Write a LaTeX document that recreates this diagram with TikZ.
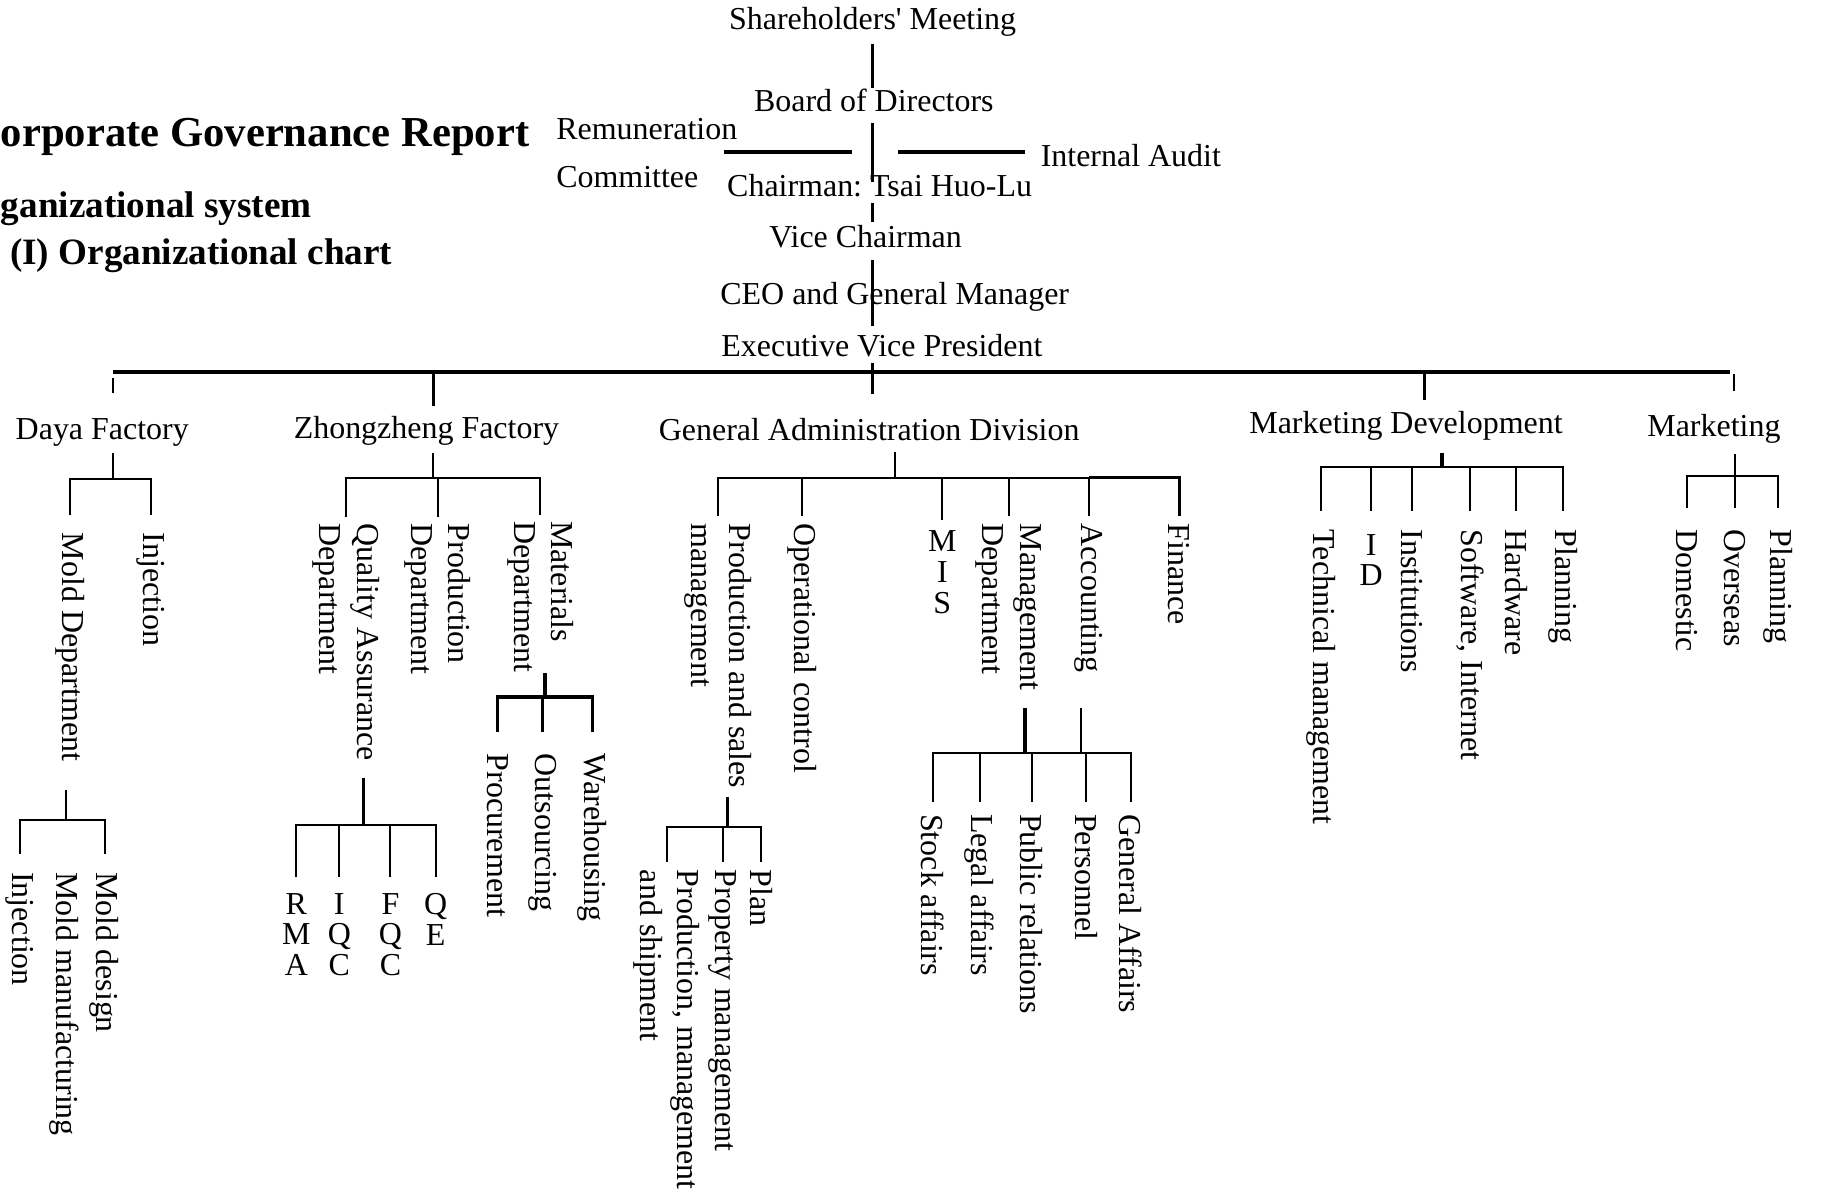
\documentclass[tikz,border=0pt]{standalone}
\usepackage{fontspec}
\setmainfont{Liberation Serif}
\frenchspacing

\begin{document}
\begin{tikzpicture}[
    x=0.01cm, y=-0.01cm,
    lbl/.style={inner sep=0pt, anchor=base, font=\fontsize{7.82}{9.1}\selectfont},
    vlabel/.style={rotate=-90, anchor=west, align=left, inner sep=0pt, font=\fontsize{7.82}{9.1}\selectfont},
    stack/.style={anchor=north, align=center, inner sep=0pt, font=\fontsize{7.82}{7.54}\selectfont},
    heading/.style={anchor=base west, inner sep=0pt, font=\bfseries\fontsize{9.1}{11}\selectfont},
    link/.style={line width=0.5pt},
    boldlink/.style={line width=0.85pt}
  ]
    \useasboundingbox (0,0) rectangle (1568,1031);

    % headings
    \node[heading, font=\bfseries\fontsize{10.44}{12}\selectfont] (title) at (0,126) {orporate Governance Report};
    \node[heading] (system) at (0,187) {ganizational system};
    \node[heading] (chart) at (8,228) {(I) Organizational chart};

    % top of the chart
    \coordinate (spine) at (751,0);
    \node[lbl] (share) at (751,25) {Shareholders\textquotesingle{} Meeting};
    \node[lbl] (board) at (752,96) {Board of Directors};
    \node[lbl] (chair) at (757,169) {Chairman: Tsai Huo-Lu};
    \node[lbl] (vice) at (745,213) {Vice Chairman};
    \node[lbl] (ceo) at (770,262) {CEO and General Manager};
    \node[lbl] (evp) at (759,307) {Executive Vice President};
    \node[lbl, anchor=north west, align=left, font=\fontsize{7.82}{11.7}\selectfont] (remu) at (478,101) {Remuneration\\Committee};
    \node[lbl, anchor=base west] (audit) at (895,143) {Internal Audit};
    \coordinate (remuTie) at (623,131);
    \coordinate (auditTie) at (882,131);

    \draw[boldlink, shorten <=1.7pt] (spine |- share.south) -- (spine |- board.north);
    \draw[boldlink, shorten <=2.6pt, shorten >=-2pt] (spine |- board.south) -- (spine |- chair.north);
    \draw[boldlink, shorten <=1.4pt, shorten >=0.6pt] (spine |- chair.south) -- (spine |- vice.north);
    \draw[boldlink, shorten <=2.8pt, shorten >=2pt] (spine |- vice.south) -- (spine |- evp.north);
    \draw[boldlink, shorten >=5.1pt] (remuTie) -- (spine |- remuTie);
    \draw[boldlink, shorten <=6.3pt] (spine |- auditTie) -- (auditTie);

    % second level
    \node[lbl] (daya) at (88,378) {Daya Factory};
    \node[lbl] (zhong) at (367,377) {Zhongzheng Factory};
    \node[lbl] (gad) at (748,379) {General Administration Division};
    \node[lbl] (md) at (1210,373) {Marketing Development};
    \node[lbl] (mk) at (1475,376) {Marketing};

    \coordinate (busL) at (97,320);
    \coordinate (busR) at (1489,320);
    \coordinate (zhongTap) at (373,320);
    \coordinate (mdTap) at (1226,320);
    \coordinate (mkTap) at (1492,320);
    \draw[boldlink] (busL) -- (busR);
    \draw[boldlink, shorten <=1.1pt, shorten >=5.7pt] (spine |- evp.south) -- (spine |- gad.north);
    \draw[link, shorten <=1.4pt, shorten >=6pt] (busL) -- (busL |- daya.north);
    \draw[boldlink, shorten >=2.3pt] (zhongTap) -- (zhongTap |- zhong.north);
    \draw[boldlink, shorten >=2.6pt] (mdTap) -- (mdTap |- md.north);
    \draw[link, shorten <=0.6pt, shorten >=5.7pt] (mkTap) -- (mkTap |- mk.north);

    % Daya Factory
    \node[vlabel] (moldDept) at (60,458) {Mold Department};
    \node[vlabel] (dayaInj) at (130,458) {Injection};
    \node[vlabel] (moldDesign) at (90,750) {Mold design};
    \node[vlabel] (moldMake) at (55,750) {Mold manufacturing};
    \node[vlabel] (moldInj) at (17,750) {Injection};

    \coordinate (dayaJ) at (97,412);
    \draw[link, shorten <=1.4pt] (dayaJ |- daya.south) -- (dayaJ);
    \draw[link, shorten >=4.3pt] (dayaJ) -| (moldDept.west);
    \draw[link, shorten >=4.3pt] (dayaJ) -| (dayaInj.west);
    \coordinate (moldJ) at (57,706);
    \draw[link, shorten <=6.8pt] (moldJ |- moldDept.east) -- (moldJ);
    \draw[link, shorten >=4.3pt] (moldJ) -| (moldDesign.west);
    \draw[link, shorten >=4.3pt] (moldJ) -| (moldInj.west);

    % Zhongzheng Factory
    \node[vlabel] (qaDept) at (298,450) {Quality Assurance\\Department};
    \node[vlabel] (prodDept) at (377,450) {Production\\Department};
    \node[vlabel] (matDept) at (465,448) {Materials\\Department};
    \node[stack] (rma) at (255,768) {R\\M\\A};
    \node[stack] (iqc) at (292,768) {I\\Q\\C};
    \node[stack] (fqc) at (336,768) {F\\Q\\C};
    \node[stack] (qe) at (375,768) {Q\\E};
    \node[vlabel] (proc) at (428,648) {Procurement};
    \node[vlabel] (outs) at (467,648) {Outsourcing};
    \node[vlabel] (ware) at (510,648) {Warehousing};

    \coordinate (zhongJ) at (373,411);
    \draw[link, shorten <=1.7pt] (zhongJ |- zhong.south) -- (zhongJ);
    \draw[link, shorten >=1.4pt] (zhongJ) -| (qaDept.west);
    \draw[link, shorten >=1.4pt] (zhongJ) -| (prodDept.west);
    \draw[link, shorten >=1.4pt] (zhongJ) -| (matDept.west);
    \coordinate (qaJ) at (313,710);
    \draw[boldlink, shorten <=4pt] (qaJ |- qaDept.east) -- (qaJ);
    \draw[link, shorten >=3.7pt] (qaJ) -| (rma.north);
    \draw[link, shorten >=3.7pt] (qaJ) -| (iqc.north);
    \draw[link, shorten >=3.7pt] (qaJ) -| (fqc.north);
    \draw[link, shorten >=3.7pt] (qaJ) -| (qe.north);
    \coordinate (matJ) at (469,600);
    \draw[boldlink] (matJ |- matDept.east) -- (matJ);
    \draw[boldlink, shorten >=5.1pt] (matJ) -| (proc.west);
    \draw[boldlink, shorten >=5.1pt] (matJ) -| (outs.west);
    \draw[boldlink, shorten >=5.1pt] (matJ) -| (ware.west);

    % General Administration Division
    \node[vlabel] (psm) at (618,450) {Production and sales\\management};
    \node[vlabel] (opc) at (690,450) {Operational control};
    \node[stack] (mis) at (811,456) {M\\I\\S};
    \node[vlabel] (mgmt) at (868,450) {Management\\Department};
    \node[vlabel] (acct) at (937,450) {Accounting};
    \node[vlabel] (fin) at (1015,450) {Finance};
    \node[vlabel] (plan) at (655,748) {Plan};
    \node[vlabel] (propm) at (622,748) {Property management};
    \node[vlabel] (pms) at (574,748) {Production, management\\and shipment};
    \node[vlabel] (stock) at (803,700) {Stock affairs};
    \node[vlabel] (legal) at (843,700) {Legal affairs};
    \node[vlabel] (pubr) at (888,700) {Public relations};
    \node[vlabel] (pers) at (935,700) {Personnel};
    \node[vlabel] (genaff) at (973,700) {General Affairs};

    \coordinate (gadJ) at (770,411);
    \draw[link, shorten <=2.6pt] (gadJ |- gad.south) -- (gadJ);
    \draw[link, shorten >=1.7pt] (gadJ) -| (psm.west);
    \draw[link, shorten >=1.7pt] (gadJ) -| (opc.west);
    \draw[link, shorten >=2.3pt] (gadJ) -| (mis.north);
    \draw[link, shorten >=1.7pt] (gadJ) -| (mgmt.west);
    \draw[link, shorten >=1.7pt] (gadJ) -| (acct.west);
    \draw[boldlink, shorten >=1.7pt] (gadJ -| acct.west) -| (fin.west);
    \coordinate (psJ) at (626,712);
    \draw[boldlink, shorten <=2pt] (psJ |- psm.east) -- (psJ);
    \draw[link, shorten >=1.7pt] (psJ) -| (plan.west);
    \draw[link, shorten >=1.7pt] (psJ) -| (propm.west);
    \draw[link, shorten >=1.7pt] (psJ) -| (pms.west);
    \coordinate (mgJ) at (882,648);
    \coordinate (acctJ) at (930,648);
    \draw[boldlink, shorten <=4pt] (mgJ |- mgmt.east) -- (mgJ);
    \draw[link, shorten <=8.5pt] (acctJ |- acct.east) -- (acctJ);
    \draw[link] (mgJ) -- (acctJ);
    \draw[link, shorten >=2.8pt] (mgJ) -| (stock.west);
    \draw[link, shorten >=2.8pt] (mgJ) -| (legal.west);
    \draw[link, shorten >=2.8pt] (mgJ) -| (pubr.west);
    \draw[link, shorten >=2.8pt] (acctJ) -| (pers.west);
    \draw[link, shorten >=2.8pt] (acctJ) -| (genaff.west);

    % Marketing Development
    \node[vlabel] (tech) at (1137,455) {Technical management};
    \node[stack] (idn) at (1180,459) {I\\D};
    \node[vlabel] (inst) at (1215,455) {Institutions};
    \node[vlabel] (soft) at (1265,455) {Software, Internet};
    \node[vlabel] (hard) at (1305,455) {Hardware};
    \node[vlabel] (mdPlan) at (1345,455) {Planning};

    \coordinate (mdJ) at (1241,402);
    \draw[boldlink, shorten <=2.8pt] (mdJ |- md.south) -- (mdJ);
    \draw[link, shorten >=4.3pt] (mdJ) -| (tech.west);
    \draw[link, shorten >=5.4pt] (mdJ) -| (idn.north);
    \draw[link, shorten >=4.3pt] (mdJ) -| (inst.west);
    \draw[link, shorten >=4.3pt] (mdJ) -| (soft.west);
    \draw[link, shorten >=4.3pt] (mdJ) -| (hard.west);
    \draw[link, shorten >=4.3pt] (mdJ) -| (mdPlan.west);

    % Marketing
    \node[vlabel] (dom) at (1452,455) {Domestic};
    \node[vlabel] (over) at (1493,455) {Overseas};
    \node[vlabel] (mkPlan) at (1530,455) {Planning};

    \coordinate (mkJ) at (1493,410);
    \draw[link, shorten <=2.3pt] (mkJ |- mk.south) -- (mkJ);
    \draw[link, shorten >=5.1pt] (mkJ) -| (dom.west);
    \draw[link, shorten >=5.1pt] (mkJ) -| (over.west);
    \draw[link, shorten >=5.1pt] (mkJ) -| (mkPlan.west);
  \end{tikzpicture}
\end{document}
